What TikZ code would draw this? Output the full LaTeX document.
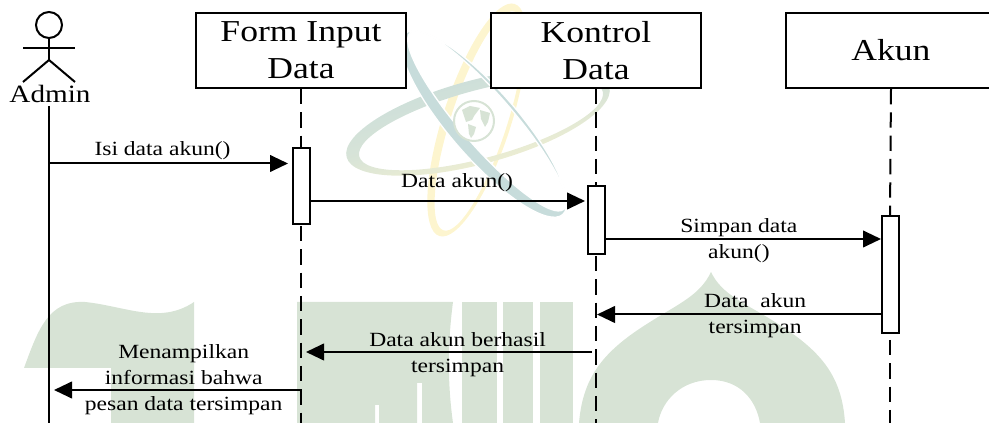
\documentclass[tikz,border=0pt]{standalone}
\usepackage{fontspec}
\setmainfont[FakeStretch=1.17]{Liberation Serif}
\usetikzlibrary{positioning, arrows.meta}
\definecolor{wmgreen}{HTML}{D7E3D5}
\definecolor{wmteal}{HTML}{C7DCDB}
\definecolor{wmyellow}{HTML}{FDF5CF}
\tikzset{
x=0.75pt, y=-0.75pt,
node distance=221.25pt, % space between the heads of the lifelines
headbox/.style={draw, line width=1.5pt, fill=white, minimum width=157.5pt, minimum height=56.25pt, inner sep=0pt, align=center, font=\fontsize{22.8}{28}\selectfont},
actbox/.style={draw, line width=1.5pt, fill=white, minimum width=12.75pt, inner sep=0pt},
lifeline/.style={line width=1.5pt, dash pattern=on 11.5pt off 6pt},
msg/.style={line width=1.5pt, -{Triangle[length=13.5pt, width=12.5pt]}},
msglabel/.style={align=center, inner sep=0pt, font=\fontsize{15.1}{19.5}\selectfont},
limb/.style={line width=1.5pt},
}

\begin{document}
\begin{tikzpicture}
    \clip (0,0) rectangle (989,423);
    % watermark
    \fill[wmgreen] (24,368) .. controls (38,330) and (48,300) .. (85,302) .. controls (125,306) and (160,325) .. (194,302) -- (194,423) -- (111,423) -- (111,368) -- cycle;
    \fill[wmgreen] (297,302) -- (453,302) .. controls (448,340) and (447,380) .. (453,423) -- (422,423) -- (422,383) -- (417,383) -- (417,423) -- (379,423) -- (379,405) -- (375,405) -- (375,423) -- (297,423) -- cycle;
    \fill[wmgreen] (462,302) rectangle (497,423);
    \fill[wmgreen] (503,302) rectangle (533,423);
    \fill[wmgreen] (540,302) rectangle (573,423);
    \fill[wmgreen, even odd rule] (579,423) .. controls (583,375) and (605,350) .. (650,322) .. controls (680,303) and (700,295) .. (711,272) .. controls (722,295) and (745,303) .. (775,322) .. controls (820,350) and (842,375) .. (845,423) -- (760,423) .. controls (756,400) and (740,380) .. (711,380) .. controls (682,380) and (662,400) .. (658,423) -- cycle;
    \fill[wmyellow, even odd rule] (477,120) ellipse [x radius=122, y radius=34, rotate=72] (479,121) ellipse [x radius=115, y radius=28, rotate=72];
    \path[even odd rule, top color=wmteal, bottom color=wmyellow, middle color=wmteal!70!wmyellow, shading angle=15] (478,122) ellipse [x radius=136, y radius=42, rotate=15] (481,124) ellipse [x radius=126, y radius=34, rotate=15];
    \filldraw[wmteal, even odd rule, draw=white, line width=1pt] (484,124) ellipse [x radius=120, y radius=34, rotate=-49] (487,121) ellipse [x radius=117, y radius=26, rotate=-49];
    \filldraw[fill=white, draw=wmgreen, line width=1.5pt] (474,121) circle [radius=20];
    \fill[wmgreen] (462,110) -- (470,106) -- (480,108) -- (474,116) -- (472,120) -- (466,122) -- cycle;
    \fill[wmgreen] (468,124) -- (476,127) -- (474,134) -- (471,138) -- (469,134) -- cycle;
    \fill[wmgreen] (480,110) -- (490,113) -- (488,122) -- (485,127) -- (481,119) -- cycle;
    % actor
    \node[circle, draw, line width=1.5pt, minimum size=26pt*0.75, inner sep=0pt] (head) at (49,25) {};
    \coordinate (armL) at (23,48);
    \coordinate (armR) at (75,48);
    \coordinate (hip) at (49,60);
    \coordinate (footL) at (23,82);
    \coordinate (footR) at (75,82);
    \draw[limb] (head.south) -- (hip);
    \draw[limb] (armL) -- (armR);
    \draw[limb] (footL) -- (hip) -- (footR);
    \node[inner sep=0pt, font=\fontsize{18.7}{20}\selectfont] (admin) at (50,94) {Admin};
    % heads of the lifelines
    \node[headbox] (form) at (301,50.5) {Form Input\\Data};
    \node[headbox, right of=form] (kontrol) {Kontrol\\Data};
    \node[headbox, right of=kontrol] (akun) {Akun};
    % activation boxes
    \node[actbox, minimum height=57pt] (formact) at (301,186) {};
    \node[actbox, minimum height=51pt] (kontrolact) at (596,220) {};
    \node[actbox, minimum height=87.75pt] (akunact) at (890,274.5) {};
    % free ends
    \coordinate (adminend) at (49,423);
    \coordinate (formend) at (301,423);
    \coordinate (kontrolend) at (596,423);
    \coordinate (akunlow) at (890,340);
    \coordinate (akunend) at (890,423);
    \coordinate (formlow) at (301,226);
    \coordinate (kontrollow) at (596,256);
    \coordinate (adminline) at (49,106);
    % lifelines
    \draw[line width=1.5pt] (adminline) -- (adminend);
    \draw[lifeline] (form.south) -- (formact.north);
    \draw[lifeline] (formlow) -- (formend);
    \draw[lifeline] (kontrol.south) -- (kontrolact.north);
    \draw[lifeline] (kontrollow) -- (kontrolend);
    \draw[lifeline] (akun.south) -- (akunact.north);
    \draw[lifeline] (akunlow) -- (akunend);
    % messages
    \coordinate (isia) at (49,163.5);
    \coordinate (isib) at (288,163.5);
    \coordinate (dataa) at (310,201);
    \coordinate (datab) at (585,201);
    \coordinate (simpana) at (605,239);
    \coordinate (simpanb) at (881,239);
    \coordinate (tersa) at (882,314.5);
    \coordinate (tersb) at (597,314.5);
    \coordinate (hasila) at (592,352);
    \coordinate (hasilb) at (306,352);
    \coordinate (infoa) at (301,390);
    \coordinate (infob) at (54,390);
    \draw[msg] (isia) -- node[msglabel, pos=.475, yshift=10pt] (isilabel) {Isi data akun()} (isib);
    \draw[msg] (dataa) -- node[msglabel, pos=.535, yshift=13.5pt] (datalabel) {Data akun()} (datab);
    \draw[msg] (simpana) -- node[msglabel, pos=.485, yshift=-1pt] (simpanlabel) {Simpan data\\akun()} (simpanb);
    \draw[msg] (tersa) -- node[msglabel, pos=.445, yshift=-1pt] (terslabel) {Data \ akun\\tersimpan} (tersb);
    \draw[msg] (hasila) -- node[msglabel, pos=.47, yshift=-2pt] (hasillabel) {Data akun berhasil\\tersimpan} (hasilb);
    \draw[msg] (infoa) -- node[msglabel, pos=.475, yshift=7.75pt] (infolabel) {Menampilkan\\informasi bahwa\\pesan data tersimpan} (infob);
\end{tikzpicture}
\end{document}
